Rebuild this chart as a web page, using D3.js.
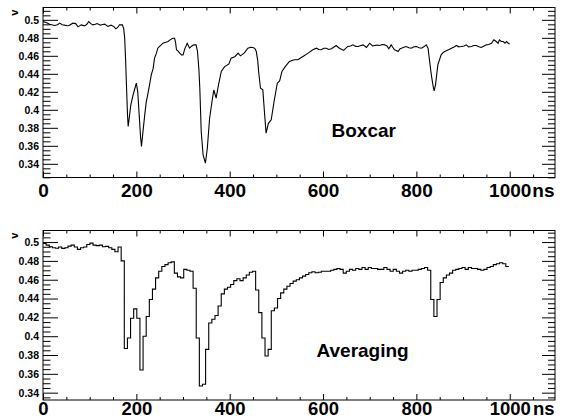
<!DOCTYPE html>
<html><head><meta charset="utf-8">
<script src="https://cdn.jsdelivr.net/npm/d3@7"></script>
<style>
html,body{margin:0;padding:0;background:#fff;}
svg{display:block;font-family:"Liberation Sans",Arial,Helvetica,sans-serif;font-weight:bold;}
</style></head>
<body><svg id="c" width="562" height="419"></svg>
<script>
// ---- data ----
const xTickValues = [0, 200, 400, 600, 800, 1000];
const xTickLabels = ["0", "200", "400", "600", "800", "1000"];
const yTickValues = [0.34, 0.36, 0.38, 0.4, 0.42, 0.44, 0.46, 0.48, 0.5];
const yTickLabels = ["0.34", "0.36", "0.38", "0.4", "0.42", "0.44", "0.46", "0.48", "0.5"];
const xUnit = "ns";
const yTitle = "v";
const panelNames = ["Boxcar", "Averaging"];

const boxcarTime = [0,7,14,25,31,36,41,46,52,56,64,70,75,82,89,94,98,103,107,112,116,123,128,132,139,146,152,156,160,164,170,173,175,177,179,181,182.5,185,188,193,197,200,203,206,209,211,214,218,221,225,229,232,236,239,243,246,251,257,263,268,273,278,282,284,286,290,293,297,300,304,309,314,319,323,328,331,334,336,339,343,348,352,357,362,366,371,376,382,389,398,403,411,418,423,431,439,445,450,454,457,460,462,466,471,475,478,483,489,495,502,507,512,519,528,538,546,557,568,578,586,591,596,602,607,612,618,625,628,635,644,653,659,664,670,675,681,686,693,700,706,711,716,721,727,732,737,741,746,750,753,757,761,765,768,773,778,784,789,795,800,806,811,816,821,825,828,832,836,838,841,846,853,858,864,870,875,880,886,891,896,902,907,912,918,923,928,934,939,945,950,955,961,966,971,975,978,982,986,990,993,997,1000];
const boxcarV = [0.498,0.497,0.495,0.4937,0.4945,0.4963,0.4945,0.4941,0.4935,0.4937,0.4963,0.4958,0.4922,0.4944,0.4933,0.495,0.4981,0.4955,0.4944,0.495,0.4959,0.4941,0.4948,0.4952,0.4926,0.4941,0.4925,0.490,0.4915,0.4945,0.4944,0.490,0.480,0.455,0.425,0.395,0.3815,0.392,0.405,0.4167,0.424,0.4296,0.420,0.395,0.37,0.3593,0.375,0.3944,0.408,0.4185,0.430,0.4389,0.446,0.4574,0.463,0.4685,0.471,0.474,0.475,0.476,0.478,0.4796,0.4796,0.475,0.4667,0.465,0.463,0.461,0.461,0.468,0.474,0.4685,0.471,0.4722,0.4722,0.465,0.445,0.424,0.376,0.350,0.3407,0.357,0.3907,0.409,0.422,0.413,0.4278,0.4426,0.448,0.4507,0.4574,0.459,0.463,0.460,0.463,0.4685,0.4695,0.4693,0.468,0.4648,0.455,0.4426,0.424,0.4222,0.394,0.374,0.385,0.389,0.409,0.4296,0.4322,0.4426,0.448,0.4537,0.4556,0.4556,0.4593,0.463,0.4667,0.4685,0.467,0.4667,0.4685,0.4685,0.467,0.4678,0.4704,0.4715,0.4685,0.466,0.4704,0.471,0.4722,0.4705,0.4704,0.4715,0.4722,0.4693,0.474,0.471,0.4715,0.472,0.4715,0.4725,0.4722,0.471,0.4678,0.4722,0.469,0.4667,0.466,0.4648,0.468,0.4685,0.4695,0.4704,0.469,0.4685,0.470,0.4704,0.469,0.4685,0.470,0.4722,0.4685,0.4556,0.4389,0.4259,0.4211,0.4278,0.45,0.4611,0.464,0.4656,0.467,0.4685,0.4695,0.4715,0.470,0.4704,0.471,0.4722,0.470,0.4704,0.4715,0.4715,0.470,0.4693,0.471,0.4722,0.4725,0.474,0.4778,0.4759,0.474,0.4778,0.476,0.4759,0.474,0.4759,0.474,0.473];

const avgBinWidth = 6.7;
const avgV = [0.4986,0.4968,0.495,0.494,0.4935,0.4947,0.4933,0.494,0.4957,0.4968,
 0.4947,0.4922,0.494,0.4947,0.4975,0.4989,0.4968,0.4962,0.4968,0.495,
 0.4954,0.494,0.4922,0.4897,0.4947,0.480,0.387,0.398,0.419,0.429,
 0.419,0.364,0.400,0.421,0.439,0.450,0.462,0.469,0.474,0.476,
 0.478,0.479,0.467,0.463,0.462,0.471,0.470,0.469,0.451,0.398,
 0.347,0.349,0.386,0.414,0.418,0.422,0.432,0.445,0.450,0.452,
 0.455,0.459,0.461,0.459,0.462,0.465,0.468,0.469,0.449,0.425,
 0.398,0.379,0.386,0.427,0.430,0.440,0.446,0.450,0.453,0.456,
 0.4585,0.460,0.462,0.4638,0.4656,0.4674,0.4684,0.4674,0.468,0.469,
 0.469,0.469,0.470,0.471,0.472,0.471,0.467,0.469,0.471,0.470,
 0.472,0.471,0.473,0.471,0.473,0.472,0.472,0.471,0.471,0.473,
 0.471,0.469,0.471,0.469,0.467,0.469,0.470,0.469,0.470,0.470,
 0.471,0.472,0.473,0.470,0.439,0.421,0.439,0.457,0.462,0.465,
 0.467,0.470,0.471,0.472,0.473,0.471,0.473,0.472,0.472,0.471,
 0.470,0.471,0.473,0.474,0.476,0.477,0.478,0.477,0.474];

// ---- layout ----
const svg = d3.select("#c");
const X0 = 43, X1 = 555;
const xDomain = [0, 1097];

const panels = [
  {name: panelNames[0], top: 7.5, bot: 177.5, yDomain: [0.3248, 0.5137], labelX: 331.5, labelY: 136.5, xLabBase: 196.5, xLabSize: 19,
   points: boxcarTime.map((t, i) => [t, boxcarV[i]]), curve: d3.curveLinear},
  {name: panelNames[1], top: 230.5, bot: 400, yDomain: [0.3322, 0.5123], labelX: 316.5, labelY: 357.3, xLabBase: 415, xLabSize: 18.5,
   points: avgV.map((v, i) => [i * avgBinWidth, v]).concat([[avgV.length * avgBinWidth, avgV[avgV.length - 1]]]),
   curve: d3.curveStepAfter}
];

function tickAxis(g, axisFn, scale, values, len, tr) {
  g.append("g").attr("transform", tr)
    .call(axisFn(scale).tickValues(values).tickSize(-len).tickFormat(""))
    .call(s => { s.select(".domain").remove(); s.selectAll("line").attr("stroke", "#000").attr("stroke-width", 1); });
}

panels.forEach(p => {
  const x = d3.scaleLinear().domain(xDomain).range([X0, X1]);
  const y = d3.scaleLinear().domain(p.yDomain).range([p.bot, p.top]);
  const g = svg.append("g");

  // frame
  g.append("rect").attr("x", X0).attr("y", p.top).attr("width", X1 - X0).attr("height", p.bot - p.top)
    .attr("fill", "none").attr("stroke", "#000").attr("stroke-width", 1);

  // x ticks
  const xMinor = d3.range(0, xDomain[1], 50).filter(t => t % 200 !== 0);
  const xMajor = d3.range(0, xDomain[1], 200);
  tickAxis(g, d3.axisBottom, x, xMinor, 3, `translate(0,${p.bot})`);
  tickAxis(g, d3.axisBottom, x, xMajor, 6, `translate(0,${p.bot})`);
  tickAxis(g, d3.axisTop, x, xMinor, 3, `translate(0,${p.top})`);
  tickAxis(g, d3.axisTop, x, xMajor, 6, `translate(0,${p.top})`);

  // y ticks
  const yMinor = [], yMajor = [];
  for (let i = Math.ceil(p.yDomain[0] * 200); i <= Math.floor(p.yDomain[1] * 200); i++) {
    (i % 4 === 0 ? yMajor : yMinor).push(i / 200);
  }
  tickAxis(g, d3.axisLeft, y, yMinor, 7.5, `translate(${X0},0)`);
  tickAxis(g, d3.axisLeft, y, yMajor, 15, `translate(${X0},0)`);
  tickAxis(g, d3.axisRight, y, yMinor, 7, `translate(${X1},0)`);
  tickAxis(g, d3.axisRight, y, yMajor, 13, `translate(${X1},0)`);

  // x labels
  g.append("g").attr("transform", `translate(0,${p.bot})`)
    .call(d3.axisBottom(x).tickValues(xTickValues).tickSize(0)
      .tickFormat((d, i) => xTickLabels[i]))
    .call(s => { s.select(".domain").remove();
      s.selectAll("text").attr("fill", "#000").attr("y", p.xLabBase - p.bot).attr("dy", null)
        .style("font-size", p.xLabSize + "px").style("font-weight", "bold")
        .style("font-family", '"Liberation Sans",Arial,sans-serif'); });
  g.append("text").attr("x", X1 - 0.5).attr("y", p.xLabBase).attr("text-anchor", "end")
    .style("font-size", p.xLabSize + "px").text(xUnit);

  // y labels
  g.append("g").attr("transform", `translate(${X0},0)`)
    .call(d3.axisLeft(y).tickValues(yTickValues).tickSize(0).tickPadding(4)
      .tickFormat((d, i) => yTickLabels[i]))
    .call(s => { s.select(".domain").remove();
      s.selectAll("text").attr("fill", "#000").style("font-size", "10.5px").style("font-weight", "bold")
        .style("font-family", '"Liberation Sans",Arial,sans-serif'); });

  // y title
  g.append("text").attr("transform", `translate(18,${p.top + 2}) rotate(-90)`).attr("text-anchor", "end")
    .style("font-size", "11px").text(yTitle);

  // data line
  const line = d3.line().x(d => x(d[0])).y(d => y(d[1])).curve(p.curve);
  g.append("path").datum(p.points).attr("d", line).attr("fill", "none")
    .attr("stroke", "#000").attr("stroke-width", 1.1);

  // panel label
  g.append("text").attr("x", p.labelX).attr("y", p.labelY).style("font-size", "19px").text(p.name);
});
</script></body></html>
